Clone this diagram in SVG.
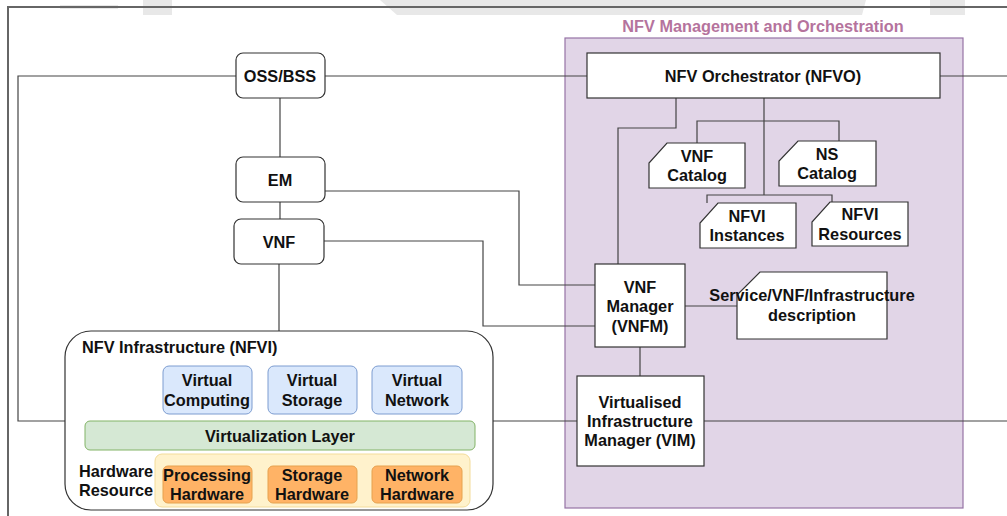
<svg xmlns="http://www.w3.org/2000/svg" width="1007" height="516" viewBox="0 0 1007 516">
<style>
text{font-family:"Liberation Sans",Arial,Helvetica,sans-serif;font-weight:bold;font-size:16.3px;fill:#111;text-anchor:middle;dominant-baseline:central}
.ln{fill:none;stroke:#444;stroke-width:1.2}
.box{fill:#fff;stroke:#333;stroke-width:1.2}
.vbox{fill:#dae8fc;stroke:#7c9cd0;stroke-width:1}
.hbox{fill:#ffb366;stroke:#e6a24f;stroke-width:1}
.wm{fill:#e8e8e8}
</style>
<rect width="1007" height="516" fill="#fff"/>
<g id="watermark">
<rect class="wm" x="60" y="5" width="58" height="4"/>
<rect class="wm" x="143" y="0" width="29" height="15"/>
<polygon class="wm" points="380,0 866,0 862,15 397,15"/>
<rect class="wm" x="930" y="0" width="35" height="15"/>
</g>
<path d="M8,516 V7 H1007" fill="none" stroke="#666" stroke-width="2"/>
<g id="mano">
<rect x="565" y="38" width="398" height="470" fill="#e1d5e7" stroke="#9673a6" stroke-width="1.2"/>
<text x="763" y="26" style="fill:#b5739d">NFV Management and Orchestration</text>
</g>
<g id="connectors">
<path class="ln" d="M236,76 H18 V421 H65"/>
<path class="ln" d="M493,421 H577"/>
<path class="ln" d="M704,421 H1007"/>
<path class="ln" d="M325,76 H587"/>
<path class="ln" d="M940,76 H1007"/>
<path class="ln" d="M280,98 V157"/>
<path class="ln" d="M280,202 V219"/>
<path class="ln" d="M279,264 V331"/>
<path class="ln" d="M325,191 H519 V285 H595"/>
<path class="ln" d="M324,241 H483 V326 H595"/>
<path class="ln" d="M676,98 V128 H618 V264"/>
<path class="ln" d="M764,98 V195"/>
<path class="ln" d="M697,143 V121 H839 V141"/>
<path class="ln" d="M707,203 V195 H832 V202"/>
<path class="ln" d="M685,306 H737"/>
<path class="ln" d="M640,347 V376"/>
</g>
<g id="oss"><rect class="box" x="236" y="53" width="89" height="45" rx="7"/><text x="280" y="76">OSS/BSS</text></g>
<g id="em"><rect class="box" x="236" y="157" width="89" height="45" rx="7"/><text x="280" y="180">EM</text></g>
<g id="vnf"><rect class="box" x="234" y="219" width="90" height="45" rx="7"/><text x="279" y="242">VNF</text></g>
<g id="nfvo"><rect class="box" x="587" y="53" width="353" height="45"/><text x="763" y="76">NFV Orchestrator (NFVO)</text></g>
<g id="vnfcatalog"><path class="box" d="M667,143 H745 V188 H649 V163 Z"/><text x="697" y="156">VNF</text><text x="697" y="175">Catalog</text></g>
<g id="nscatalog"><path class="box" d="M798,141 H876 V186 H779 V161 Z"/><text x="827" y="154">NS</text><text x="827" y="173">Catalog</text></g>
<g id="nfviinstances"><path class="box" d="M718,203 H796 V248 H700 V223 Z"/><text x="747" y="216">NFVI</text><text x="747" y="235">Instances</text></g>
<g id="nfviresources"><path class="box" d="M830,202 H908 V246 H812 V222 Z"/><text x="860" y="214">NFVI</text><text x="860" y="234">Resources</text></g>
<g id="vnfm"><rect class="box" x="595" y="264" width="90" height="83"/><text x="640" y="287">VNF</text><text x="640" y="306">Manager</text><text x="640" y="326">(VNFM)</text></g>
<g id="description"><path class="box" d="M760,272 H887 V339 H737 V295 Z"/><text x="812" y="295">Service/VNF/Infrastructure</text><text x="812" y="315">description</text></g>
<g id="vim"><rect class="box" x="577" y="376" width="127" height="90"/><text x="640" y="402">Virtualised</text><text x="640" y="421">Infrastructure</text><text x="640" y="440">Manager (VIM)</text></g>
<g id="nfvi">
<rect class="box" x="65" y="331" width="428" height="179" rx="26"/>
<text x="82" y="347" style="text-anchor:start">NFV Infrastructure (NFVI)</text>
<rect class="vbox" x="163" y="366" width="89" height="48" rx="6"/><text x="207" y="380">Virtual</text><text x="207" y="400">Computing</text>
<rect class="vbox" x="268" y="366" width="89" height="48" rx="6"/><text x="312" y="380">Virtual</text><text x="312" y="400">Storage</text>
<rect class="vbox" x="372" y="366" width="90" height="48" rx="6"/><text x="417" y="380">Virtual</text><text x="417" y="400">Network</text>
<rect x="85" y="421" width="390" height="29" rx="5" fill="#d5e8d4" stroke="#82b366" stroke-width="1"/><text x="280" y="436">Virtualization Layer</text>
<rect x="155" y="454" width="315" height="53" rx="7" fill="#fff2cc" stroke="#f3dc9a" stroke-width="1"/>
<text x="116" y="471">Hardware</text><text x="116" y="490">Resource</text>
<rect class="hbox" x="163" y="466" width="89" height="37" rx="5"/><text x="207" y="475">Processing</text><text x="207" y="494">Hardware</text>
<rect class="hbox" x="268" y="466" width="89" height="37" rx="5"/><text x="312" y="475">Storage</text><text x="312" y="494">Hardware</text>
<rect class="hbox" x="372" y="466" width="90" height="37" rx="5"/><text x="417" y="475">Network</text><text x="417" y="494">Hardware</text>
</g>
</svg>
